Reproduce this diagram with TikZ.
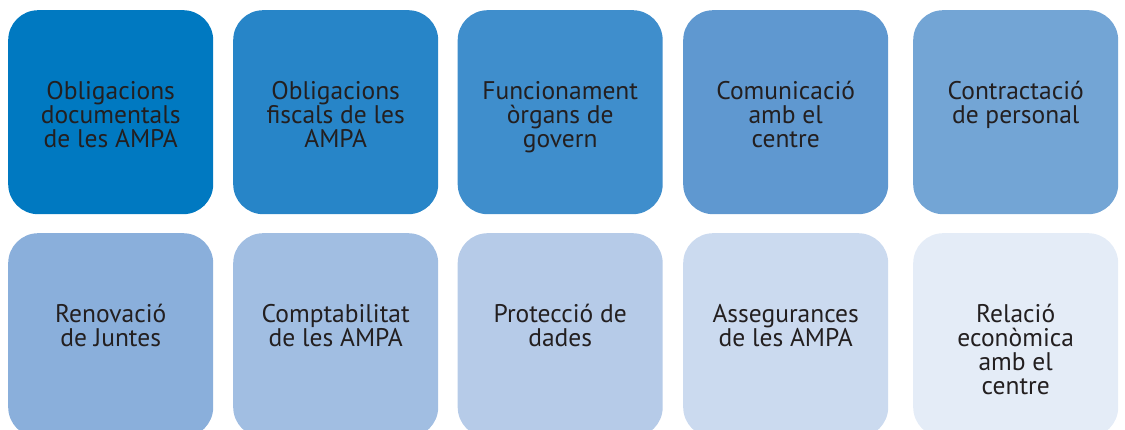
\documentclass[tikz,border=0pt]{standalone}
\usepackage{fontspec}
\setmainfont{PT Sans}
\definecolor{cA}{HTML}{0079C1}
\definecolor{cB}{HTML}{2785C8}
\definecolor{cC}{HTML}{3F8ECC}
\definecolor{cD}{HTML}{5F98D0}
\definecolor{cE}{HTML}{73A5D5}
\definecolor{cF}{HTML}{8AAFDB}
\definecolor{cG}{HTML}{A1BEE2}
\definecolor{cH}{HTML}{B6CBE8}
\definecolor{cI}{HTML}{CBDAEF}
\definecolor{cJ}{HTML}{E4ECF7}
\definecolor{txt}{HTML}{231F20}
\tikzset{
  tile/.style={draw=none, rounded corners=30pt, minimum width=205pt, minimum height=204pt, inner sep=0pt, anchor=north west},
  tiletext/.style={anchor=north, inner sep=0pt, align=center, text=txt, font=\fontsize{25.5}{24}\selectfont}
}
\newcommand{\tiletxt}[1]{\rule{0pt}{28pt}#1}
\begin{document}
\begin{tikzpicture}[x=1pt,y=-1pt]
\useasboundingbox (0,0) rectangle (1125,430);
\clip (0,0) rectangle (1125,430);
% row 1
\node[tile, fill=cA] (b1) at (8,10) {};
\node[tile, fill=cB] (b2) at (233,10) {};
\node[tile, fill=cC] (b3) at (457.5,10) {};
\node[tile, fill=cD] (b4) at (683,10) {};
\node[tile, fill=cE] (b5) at (913,10) {};
% row 2
\node[tile, fill=cF] (b6) at (8,233) {};
\node[tile, fill=cG] (b7) at (233,233) {};
\node[tile, fill=cH] (b8) at (457.5,233) {};
\node[tile, fill=cI] (b9) at (683,233) {};
\node[tile, fill=cJ] (b10) at (913,233) {};
% texts
\node[tiletext] (t1) at ([yshift=-61pt]b1.north) {\tiletxt{Obligacions}\\documentals\\de les AMPA};
\node[tiletext] (t2) at ([yshift=-61pt]b2.north) {\tiletxt{Obligacions}\\fiscals de les\\AMPA};
\node[tiletext] (t3) at ([yshift=-61pt]b3.north) {\tiletxt{Funcionament}\\òrgans de\\govern};
\node[tiletext] (t4) at ([yshift=-61pt]b4.north) {\tiletxt{Comunicació}\\amb el\\centre};
\node[tiletext] (t5) at ([yshift=-61pt]b5.north) {\tiletxt{Contractació}\\de personal};
\node[tiletext] (t6) at ([yshift=-61pt]b6.north) {\tiletxt{Renovació}\\de Juntes};
\node[tiletext] (t7) at ([yshift=-61pt]b7.north) {\tiletxt{Comptabilitat}\\de les AMPA};
\node[tiletext] (t8) at ([yshift=-61pt]b8.north) {\tiletxt{Protecció de}\\dades};
\node[tiletext] (t9) at ([yshift=-61pt]b9.north) {\tiletxt{Assegurances}\\de les AMPA};
\node[tiletext] (t10) at ([yshift=-61pt]b10.north) {\tiletxt{Relació}\\econòmica\\amb el\\centre};
\end{tikzpicture}
\end{document}
